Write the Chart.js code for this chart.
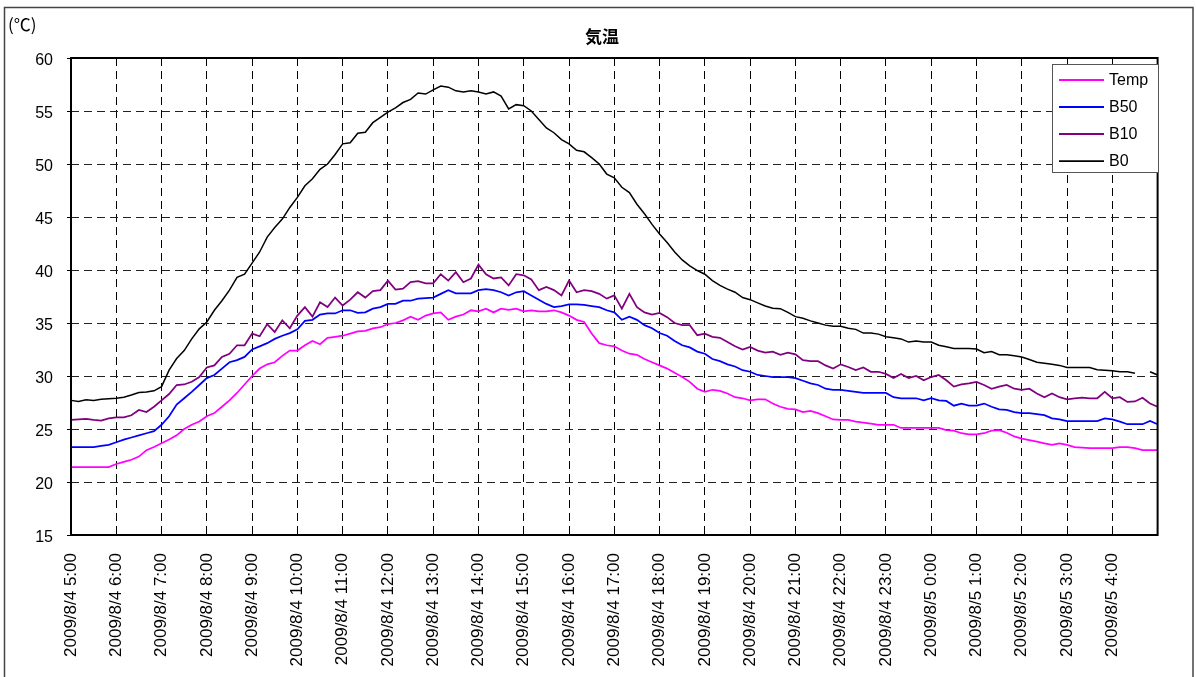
<!DOCTYPE html>
<html>
<head>
<meta charset="utf-8">
<title>気温</title>
<script src="https://cdn.jsdelivr.net/npm/chart.js@4.4.1/dist/chart.umd.min.js"></script>
<style>
  html, body { margin: 0; padding: 0; background: #fff; }
  #wrap { width: 1196px; height: 677px; }
</style>
</head>
<body>
<div id="wrap"><canvas id="chart" width="1196" height="677"></canvas></div>
<script>
// 10-minute readings from 2009/8/4 5:00 to 2009/8/5 5:00 (145 points)
const startHour = 5;
const stepMinutes = 10;

const seriesNames = ['Temp', 'B50', 'B10', 'B0'];
const seriesColors = ['#ff00ff', '#0000ff', '#800080', '#000000'];

// one row per hour: :00 :10 :20 :30 :40 :50
const temp = [
  21.4, 21.4, 21.4, 21.4, 21.4, 21.4,
  21.7, 21.9, 22.1, 22.4, 23.0, 23.3,
  23.65, 24.0, 24.4, 25.0, 25.4, 25.7,
  26.2, 26.5, 27.1, 27.7, 28.4, 29.2,
  30.0, 30.7, 31.1, 31.3, 31.9, 32.4,
  32.4, 32.9, 33.3, 33.0, 33.6, 33.7,
  33.8, 34.0, 34.2, 34.25, 34.5, 34.6,
  34.9, 35.0, 35.25, 35.6, 35.3, 35.7,
  35.9, 36.0, 35.3, 35.6, 35.8, 36.2,
  36.1, 36.35, 36.0, 36.35, 36.25, 36.35,
  36.1, 36.2, 36.1, 36.1, 36.2, 36.0,
  35.7, 35.3, 35.1, 34.0, 33.1, 32.9,
  32.8, 32.4, 32.1, 32.0, 31.6, 31.3,
  31.0, 30.7, 30.3, 29.9, 29.45, 28.8,
  28.5, 28.7, 28.6, 28.35, 28.0, 27.9,
  27.7, 27.8, 27.8, 27.4, 27.1, 26.9,
  26.85, 26.6, 26.7, 26.5, 26.2, 25.9,
  25.85, 25.85, 25.7, 25.6, 25.5, 25.4,
  25.4, 25.4, 25.1, 25.1, 25.1, 25.1,
  25.1, 25.1, 24.9, 24.85, 24.6, 24.5,
  24.5, 24.6, 24.85, 24.9, 24.65, 24.3,
  24.1, 23.95, 23.8, 23.65, 23.5, 23.65,
  23.5, 23.3, 23.25, 23.2, 23.2, 23.2,
  23.2, 23.3, 23.3, 23.2, 23.0, 23.0,
  23.0
];

const b50 = [
  23.3, 23.3, 23.3, 23.3, 23.4, 23.5,
  23.75, 24.0, 24.2, 24.4, 24.6, 24.8,
  25.4, 26.2, 27.3, 27.9, 28.5, 29.15,
  29.8, 30.1, 30.7, 31.3, 31.5, 31.8,
  32.5, 32.8, 33.1, 33.5, 33.8, 34.05,
  34.4, 35.2, 35.3, 35.8, 35.9, 35.9,
  36.2, 36.2, 35.95, 36.0, 36.35, 36.5,
  36.8, 36.8, 37.1, 37.1, 37.3, 37.35,
  37.4, 37.75, 38.1, 37.8, 37.8, 37.8,
  38.1, 38.2, 38.1, 37.9, 37.6, 37.9,
  38.0, 37.6, 37.2, 36.8, 36.5, 36.6,
  36.75, 36.75, 36.7, 36.6, 36.5, 36.2,
  36.0, 35.3, 35.6, 35.3, 34.8, 34.5,
  34.05, 33.8, 33.3, 32.9, 32.7, 32.3,
  32.1, 31.6, 31.4, 31.1, 30.9, 30.55,
  30.4, 30.1, 30.0, 29.9, 29.9, 29.9,
  29.8, 29.55, 29.3, 29.15, 28.8, 28.7,
  28.7, 28.6, 28.5, 28.4, 28.4, 28.4,
  28.4, 28.0, 27.9, 27.9, 27.9, 27.7,
  27.9, 27.7, 27.65, 27.2, 27.4, 27.2,
  27.2, 27.4, 27.1, 26.85, 26.8, 26.6,
  26.5, 26.5, 26.4, 26.3, 26.0, 25.9,
  25.75, 25.75, 25.75, 25.75, 25.75, 26.0,
  25.9, 25.7, 25.45, 25.45, 25.45, 25.75,
  25.45
];

const b10 = [
  25.85, 25.9, 25.95, 25.85, 25.8, 26.0,
  26.1, 26.1, 26.3, 26.8, 26.6, 27.1,
  27.7, 28.3, 29.15, 29.2, 29.45, 29.9,
  30.8, 31.0, 31.8, 32.1, 32.9, 32.9,
  34.0, 33.75, 34.9, 34.15, 35.25, 34.5,
  35.7, 36.5, 35.6, 36.95, 36.5, 37.4,
  36.65, 37.2, 37.9, 37.4, 38.0, 38.1,
  39.0, 38.15, 38.25, 38.85, 38.95, 38.75,
  38.75, 39.6, 39.0, 39.8, 38.85, 39.2,
  40.5, 39.6, 39.2, 39.3, 38.55, 39.6,
  39.5, 39.1, 38.1, 38.4, 38.1, 37.6,
  39.0, 37.9, 38.1, 38.0, 37.75, 37.3,
  37.6, 36.35, 37.75, 36.5, 36.0, 35.8,
  35.95, 35.55, 35.0, 34.8, 34.8, 33.85,
  34.0, 33.7, 33.6, 33.2, 32.8, 32.5,
  32.75, 32.4, 32.2, 32.3, 32.0, 32.2,
  32.05, 31.5, 31.4, 31.4, 31.0, 30.7,
  31.1, 30.85, 30.55, 30.8, 30.4, 30.4,
  30.2, 29.8, 30.2, 29.8, 30.0, 29.6,
  29.9, 30.1, 29.6, 29.0, 29.2, 29.3,
  29.45, 29.15, 28.8, 29.0, 29.15, 28.8,
  28.7, 28.8, 28.35, 28.0, 28.35, 28.0,
  27.8, 27.9, 27.95, 27.9, 27.9, 28.5,
  27.9, 28.0, 27.55, 27.6, 27.95, 27.4,
  27.1
];

// null = logger gap
const b0 = [
  27.7, 27.6, 27.75, 27.7, 27.8, 27.85,
  27.9, 28.0, 28.2, 28.45, 28.5, 28.6,
  29.0, 30.55, 31.65, 32.4, 33.5, 34.45,
  35.1, 36.2, 37.1, 38.1, 39.3, 39.6,
  40.65, 41.7, 43.1, 44.0, 44.8, 45.9,
  46.85, 47.95, 48.6, 49.5, 50.0, 50.9,
  51.9, 52.0, 52.9, 53.0, 53.9, 54.4,
  54.9, 55.3, 55.8, 56.1, 56.7, 56.6,
  57.0, 57.35, 57.25, 56.9, 56.8, 56.9,
  56.8, 56.6, 56.8, 56.4, 55.2, 55.6,
  55.5, 55.0, 54.2, 53.4, 52.95, 52.3,
  51.9, 51.3, 51.15, 50.6, 50.0, 49.05,
  48.7, 47.8, 47.3, 46.2, 45.3, 44.3,
  43.4, 42.6, 41.7, 40.95, 40.4, 39.95,
  39.6, 39.0, 38.55, 38.2, 37.9, 37.4,
  37.2, 36.9, 36.6, 36.4, 36.35, 36.0,
  35.6, 35.45, 35.2, 35.0, 34.8, 34.7,
  34.7, 34.5, 34.4, 34.05, 34.05, 33.95,
  33.7, 33.6, 33.5, 33.2, 33.3, 33.2,
  33.2, 32.9, 32.75, 32.6, 32.6, 32.6,
  32.55, 32.2, 32.3, 32.0, 32.0, 31.9,
  31.8, 31.55, 31.3, 31.2, 31.1, 31.0,
  30.8, 30.8, 30.8, 30.8, 30.6, 30.55,
  30.5, 30.4, 30.4, 30.25, null, 30.4,
  30.1
];

const yTicks = { min: 15, max: 60, step: 5 };

function buildTimeLabels(count) {
  const out = [];
  for (let i = 0; i < count; i++) {
    const total = startHour * 60 + i * stepMinutes;
    const day = 4 + Math.floor(total / 1440);
    const h = Math.floor((total % 1440) / 60);
    const m = total % 60;
    out.push(`2009/8/${day} ${h}:${String(m).padStart(2, '0')}`);
  }
  return out;
}

const timeLabels = buildTimeLabels(temp.length);
const perHour = 60 / stepMinutes;
const isHour = i => i % perHour === 0 && i < timeLabels.length - 1;

// frame, title, unit label and the boxed legend inside the plot
const decorations = {
  id: 'decorations',
  beforeDraw(chart) {
    const { ctx } = chart;
    ctx.save();
    ctx.fillStyle = '#fff';
    ctx.fillRect(0, 0, chart.width, chart.height);
    ctx.strokeStyle = '#444';
    ctx.lineWidth = 1.5;
    ctx.strokeRect(4.5, 7.5, 1188.5, 700);
    ctx.fillStyle = '#000';
    ctx.textBaseline = 'middle';
    ctx.textAlign = 'center';
    ctx.font = 'bold 17px "Noto Sans CJK JP"';
    ctx.fillText('気温', 602, 37);
    ctx.textAlign = 'left';
    ctx.font = '17px "Noto Sans CJK JP"';
    ctx.fillText('(℃)', 8, 25);
    ctx.restore();
  },
  afterDatasetsDraw(chart) {
    const { ctx, chartArea: a } = chart;
    ctx.save();
    ctx.strokeStyle = '#000';
    ctx.lineWidth = 2;
    ctx.strokeRect(a.left, a.top, a.right - a.left, a.bottom - a.top);

    const box = { x: 1052.5, y: 64.5, w: 106, h: 108 };
    ctx.fillStyle = '#fff';
    ctx.fillRect(box.x, box.y, box.w, box.h);
    ctx.strokeStyle = '#555';
    ctx.lineWidth = 1;
    ctx.strokeRect(box.x, box.y, box.w, box.h);
    ctx.font = '16px "Liberation Sans", Arial, sans-serif';
    ctx.textBaseline = 'middle';
    ctx.textAlign = 'left';
    chart.data.datasets.forEach((ds, i) => {
      const y = 80 + i * 27;
      ctx.strokeStyle = ds.borderColor;
      ctx.lineWidth = ds.borderWidth + 0.25;
      ctx.beginPath();
      ctx.moveTo(1059, y);
      ctx.lineTo(1104, y);
      ctx.stroke();
      ctx.fillStyle = '#000';
      ctx.fillText(ds.label, 1109, y + 1);
    });
    ctx.restore();
  }
};

const seriesData = [temp, b50, b10, b0];
const datasets = seriesNames.map((name, i) => ({
  label: name,
  data: seriesData[i],
  borderColor: seriesColors[i],
  backgroundColor: seriesColors[i],
  borderWidth: i === 3 ? 1.5 : 1.75,
  pointRadius: 0,
  tension: 0,
  spanGaps: false
}));

new Chart(document.getElementById('chart'), {
  type: 'line',
  data: { labels: timeLabels, datasets },
  plugins: [decorations],
  options: {
    responsive: false,
    animation: false,
    layout: { padding: { top: 58, right: 32, bottom: 0, left: 0 } },
    plugins: {
      legend: { display: false },
      title: { display: false },
      tooltip: { enabled: false }
    },
    scales: {
      x: {
        offset: false,
        afterFit(s) { s.height = 142; },
        grid: {
          color: c => (c.index % perHour === 0 ? '#000' : 'rgba(0,0,0,0)'),
          lineWidth: 1,
          drawTicks: false
        },
        border: { display: false, dash: [8, 5] },
        ticks: {
          autoSkip: false,
          minRotation: 90,
          maxRotation: 90,
          padding: 18,
          color: '#000',
          font: { family: '"Liberation Sans", Arial, sans-serif', size: 17 },
          callback(value, index) { return isHour(index) ? timeLabels[index] : ''; }
        }
      },
      y: {
        min: yTicks.min,
        max: yTicks.max,
        afterFit(s) { s.width = 71; },
        grid: {
          color: '#222',
          lineWidth: 1,
          tickLength: 4,
          tickColor: '#000',
          tickBorderDash: []
        },
        border: { display: false, dash: [8, 5] },
        ticks: {
          stepSize: yTicks.step,
          padding: 14,
          labelOffset: 3,
          color: '#000',
          font: { family: '"Liberation Sans", Arial, sans-serif', size: 16 }
        }
      }
    }
  }
});
</script>
</body>
</html>
